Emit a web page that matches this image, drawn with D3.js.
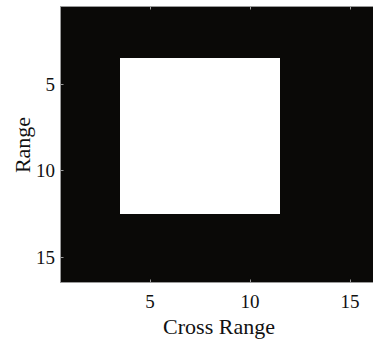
<!DOCTYPE html>
<html>
<head>
<meta charset="utf-8">
<script src="https://cdn.jsdelivr.net/npm/d3@7"></script>
<style>
  html, body { margin: 0; padding: 0; background: #fff; }
  svg { display: block; }
  text { font-family: "Liberation Serif", "Times New Roman", serif; fill: #111; }
</style>
</head>
<body>
<script>
// Scene reflectivity on a 16 x 16 grid (rows = range bins, columns = cross-range bins)
const grid = [
  "0000000000000000",
  "0000000000000000",
  "0000000000000000",
  "0001111111100000",
  "0001111111100000",
  "0001111111100000",
  "0001111111100000",
  "0001111111100000",
  "0001111111100000",
  "0001111111100000",
  "0001111111100000",
  "0001111111100000",
  "0000000000000000",
  "0000000000000000",
  "0000000000000000",
  "0000000000000000"
];
const xTicks = [5, 10, 15];
const yTicks = [5, 10, 15];
const xLabel = "Cross Range";
const yLabel = "Range";

const W = 373, H = 343;
const plot = { left: 60, top: 6, right: 380, bottom: 283 };

const svg = d3.select("body").append("svg").attr("width", W).attr("height", H);

const nRows = grid.length, nCols = grid[0].length;
const x = d3.scaleLinear().domain([0.5, nCols + 0.5]).range([plot.left, plot.right]);
const y = d3.scaleLinear().domain([0.5, nRows + 0.5]).range([plot.top, plot.bottom]);
const color = d3.scaleLinear().domain([0, 1]).range(["#0a0907", "#ffffff"]);

const cells = [];
grid.forEach((row, r) => row.split("").forEach((v, c) => cells.push({ r: r + 1, c: c + 1, v: +v })));

svg.append("clipPath").attr("id", "clip").append("rect")
  .attr("x", plot.left).attr("y", plot.top)
  .attr("width", plot.right - plot.left).attr("height", plot.bottom - plot.top);

svg.append("g").attr("clip-path", "url(#clip)")
  .selectAll("rect").data(cells).join("rect")
  .attr("x", d => x(d.c - 0.5))
  .attr("y", d => y(d.r - 0.5))
  .attr("width", d => x(d.c + 0.5) - x(d.c - 0.5) + 0.5)
  .attr("height", d => y(d.r + 0.5) - y(d.r - 0.5) + 0.5)
  .attr("fill", d => color(d.v))
  .attr("shape-rendering", "crispEdges");

// Box frame with inward ticks
const frame = svg.append("g").attr("stroke", "#9a9a9a").attr("fill", "none").attr("stroke-width", 1);
frame.append("rect")
  .attr("x", plot.left + 0.5).attr("y", plot.top + 0.5)
  .attr("width", plot.right - plot.left).attr("height", plot.bottom - plot.top - 1);

const tickLen = 3;
xTicks.forEach(t => {
  const px = Math.round(x(t)) + 0.5;
  frame.append("line").attr("x1", px).attr("x2", px).attr("y1", plot.bottom - 0.5).attr("y2", plot.bottom - 0.5 - tickLen);
  frame.append("line").attr("x1", px).attr("x2", px).attr("y1", plot.top + 0.5).attr("y2", plot.top + 0.5 + tickLen);
});
yTicks.forEach(t => {
  const py = Math.round(y(t)) + 0.5;
  frame.append("line").attr("x1", plot.left + 0.5).attr("x2", plot.left + 0.5 + tickLen).attr("y1", py).attr("y2", py);
});

// Tick labels
svg.append("g").selectAll("text").data(xTicks).join("text")
  .attr("x", d => x(d)).attr("y", 308)
  .attr("text-anchor", "middle").attr("font-size", 19)
  .text(d => d);

svg.append("g").selectAll("text").data(yTicks).join("text")
  .attr("x", 55).attr("y", d => y(d)).attr("dy", "0.35em")
  .attr("text-anchor", "end").attr("font-size", 19)
  .text(d => d);

// Axis titles
svg.append("text")
  .attr("x", 219).attr("y", 334)
  .attr("text-anchor", "middle").attr("font-size", 22)
  .text(xLabel);

svg.append("text")
  .attr("transform", `translate(30,${145}) rotate(-90)`)
  .attr("text-anchor", "middle").attr("font-size", 22)
  .text(yLabel);
</script>
</body>
</html>
